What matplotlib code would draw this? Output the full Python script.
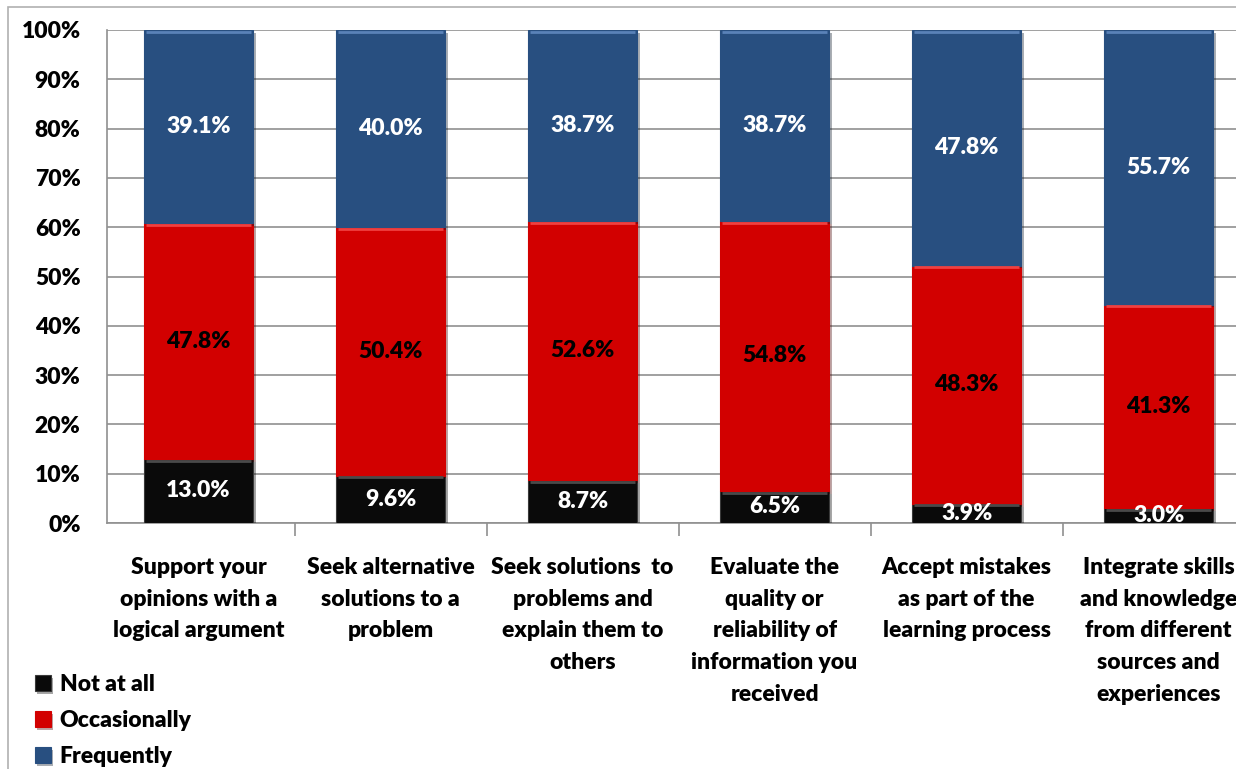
import numpy as np
import matplotlib.pyplot as plt
import matplotlib.patheffects as pe
from matplotlib.patches import Rectangle

# survey items and answer shares (%)
items = ['Support your\nopinions with a\nlogical argument',
         'Seek alternative\nsolutions to a\nproblem',
         'Seek solutions  to\nproblems and\nexplain them to\nothers',
         'Evaluate the\nquality or\nreliability of\ninformation you\nreceived',
         'Accept mistakes\nas part of the\nlearning process',
         'Integrate skills\nand knowledge\nfrom different\nsources and\nexperiences']
not_at_all = [13.0, 9.6, 8.7, 6.5, 3.9, 3.0]
occasionally = [47.8, 50.4, 52.6, 54.8, 48.3, 41.3]
frequently = [39.1, 40.0, 38.7, 38.7, 47.8, 55.7]

# name, values, fill, top highlight, label colour
series = [('Not at all', not_at_all, '#0a0a0a', '#4a4a4a', 'white'),
          ('Occasionally', occasionally, '#d20000', '#f04040', 'black'),
          ('Frequently', frequently, '#284f80', '#5a82b8', 'white')]

plt.rcParams['font.family'] = ['Lato', 'DejaVu Sans']
FW = 'heavy'
FS = 16.5
W = 0.57

fig = plt.figure(figsize=(12.36, 7.69), dpi=100)
# outer chart border
fig.patches.append(Rectangle((8 / 1236, -0.1), 1.2, 0.1 + 762 / 769,
                             transform=fig.transFigure, fill=False,
                             edgecolor='#b0b0b0', linewidth=1.2))

ax = fig.add_axes([107 / 1236, 246 / 769, 1152 / 1236, 493 / 769])
x = np.arange(len(items))
bottom = np.zeros(len(items))
shadow = [pe.SimplePatchShadow(offset=(2, -2), alpha=0.35), pe.Normal()]
handles = []
for name, vals, col, hi, tcol in series:
    vals = np.array(vals)
    bars = ax.bar(x, vals, W, bottom=bottom, color=col,
                  edgecolor='#3a3a3a' if col == '#0a0a0a' else col,
                  linewidth=0.8, label=name, zorder=3)
    for b in bars:
        b.set_path_effects(shadow)
    handles.append(bars)
    # light bevel along the top of each segment
    ax.hlines(bottom + vals - 0.35, x - W / 2 + 0.01, x + W / 2 - 0.01,
              color=hi, linewidth=2, zorder=4)
    for xi, v, b0 in zip(x, vals, bottom):
        ax.text(xi, b0 + v / 2, f'{v:.1f}%', ha='center', va='center',
                color=tcol, fontsize=FS, fontweight=FW, zorder=5)
    bottom += vals

ax.set_xlim(-0.477, 5.523)
ax.set_ylim(0, 100)
ax.set_yticks(np.arange(0, 101, 10))
ax.set_yticklabels([f'{t}%' for t in range(0, 101, 10)],
                   fontweight=FW)
ax.tick_params(axis='y', labelsize=FS, length=0, pad=19)
ax.set_xticks(np.arange(0.5, len(items), 1))
ax.set_xticklabels([])
ax.tick_params(axis='x', length=9, color='#909090', width=1.2)
ax.grid(axis='y', color='#909090', linewidth=1.2, zorder=0)
for s in ['top', 'right']:
    ax.spines[s].set_visible(False)
for s in ['left', 'bottom']:
    ax.spines[s].set_color('#909090')
    ax.spines[s].set_linewidth(1.2)

for xi, lab in zip(x, items):
    ax.text(xi, -6.9, lab, ha='center', va='top', fontsize=FS,
            fontweight=FW, linespacing=1.63,
            transform=ax.transData)

leg = fig.legend([h[0] for h in handles], [s[0] for s in series],
                 loc='lower left', bbox_to_anchor=(14 / 1236, -0.024),
                 frameon=False, prop={'size': FS, 'weight': FW},
                 handlelength=0.7, handleheight=0.7, handletextpad=0.4,
                 labelspacing=0.65)

fig.savefig('out.png', dpi=100)
